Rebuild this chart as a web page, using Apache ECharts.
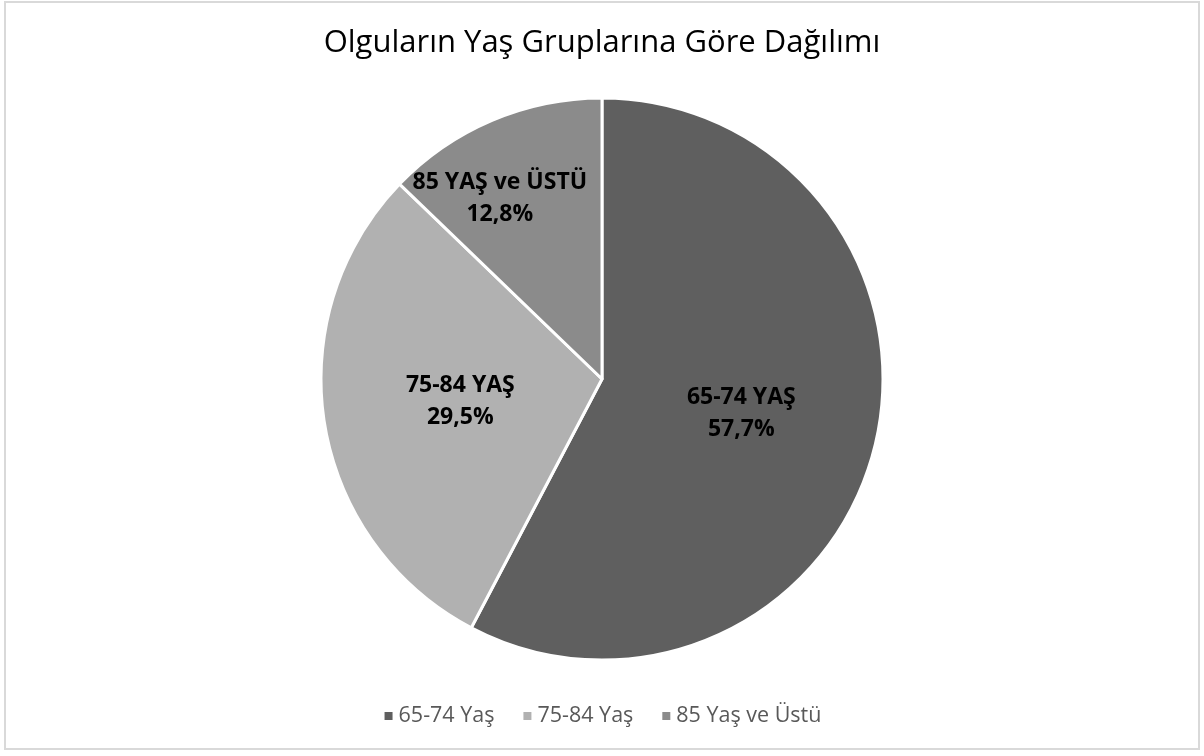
<!DOCTYPE html>
<html><head><meta charset="utf-8">
<script src="https://cdn.jsdelivr.net/npm/echarts@6/dist/echarts.min.js"></script>
<style>html,body{margin:0;padding:0;background:#fff}
#b{position:absolute;left:4px;top:1px;width:1196px;height:749px;border:2px solid #d9d9d9;box-sizing:border-box}
#c{position:absolute;left:0;top:0;width:1204px;height:756px}</style>
</head><body><div id="b"></div><div id="c"></div>
<script>
const categories = ['65-74 Yaş', '75-84 Yaş', '85 Yaş ve Üstü'];
const labelNames = ['65-74 YAŞ', '75-84 YAŞ', '85 YAŞ ve ÜSTÜ'];
const values = [57.7, 29.5, 12.8];
const colors = ['#5f5f5f', '#b1b1b1', '#8b8b8b'];
const offsets = [[0, 0], [0, 0], [-46, -48]];
const chart = echarts.init(document.getElementById('c'));
chart.setOption({
  animation: false,
  title: { text: 'Olguların Yaş Gruplarına Göre Dağılımı', left: 'center', top: 23,
    textStyle: { fontFamily: 'Open Sans', fontWeight: 'normal', fontSize: 31, color: '#000' } },
  legend: { top: 700, left: 'center', itemWidth: 10, itemHeight: 10, itemGap: 27, icon: 'rect',
    textStyle: { fontFamily: 'Open Sans', fontSize: 21.5, color: '#595959' }, data: categories },
  series: [{
    type: 'pie', center: [602, 379], radius: 281, startAngle: 90, clockwise: true,
    itemStyle: { borderColor: '#fff', borderWidth: 3 },
    label: { position: 'inside', fontFamily: 'Open Sans', fontWeight: 'bold', fontSize: 23, color: '#000', lineHeight: 32,
      formatter: p => labelNames[p.dataIndex] + '\n' + p.value.toFixed(1).replace('.', ',') + '%' },
    labelLine: { show: false },
    data: categories.map((c, i) => ({ name: c, value: values[i], itemStyle: { color: colors[i] }, label: { offset: offsets[i] } }))
  }]
});
</script></body></html>
